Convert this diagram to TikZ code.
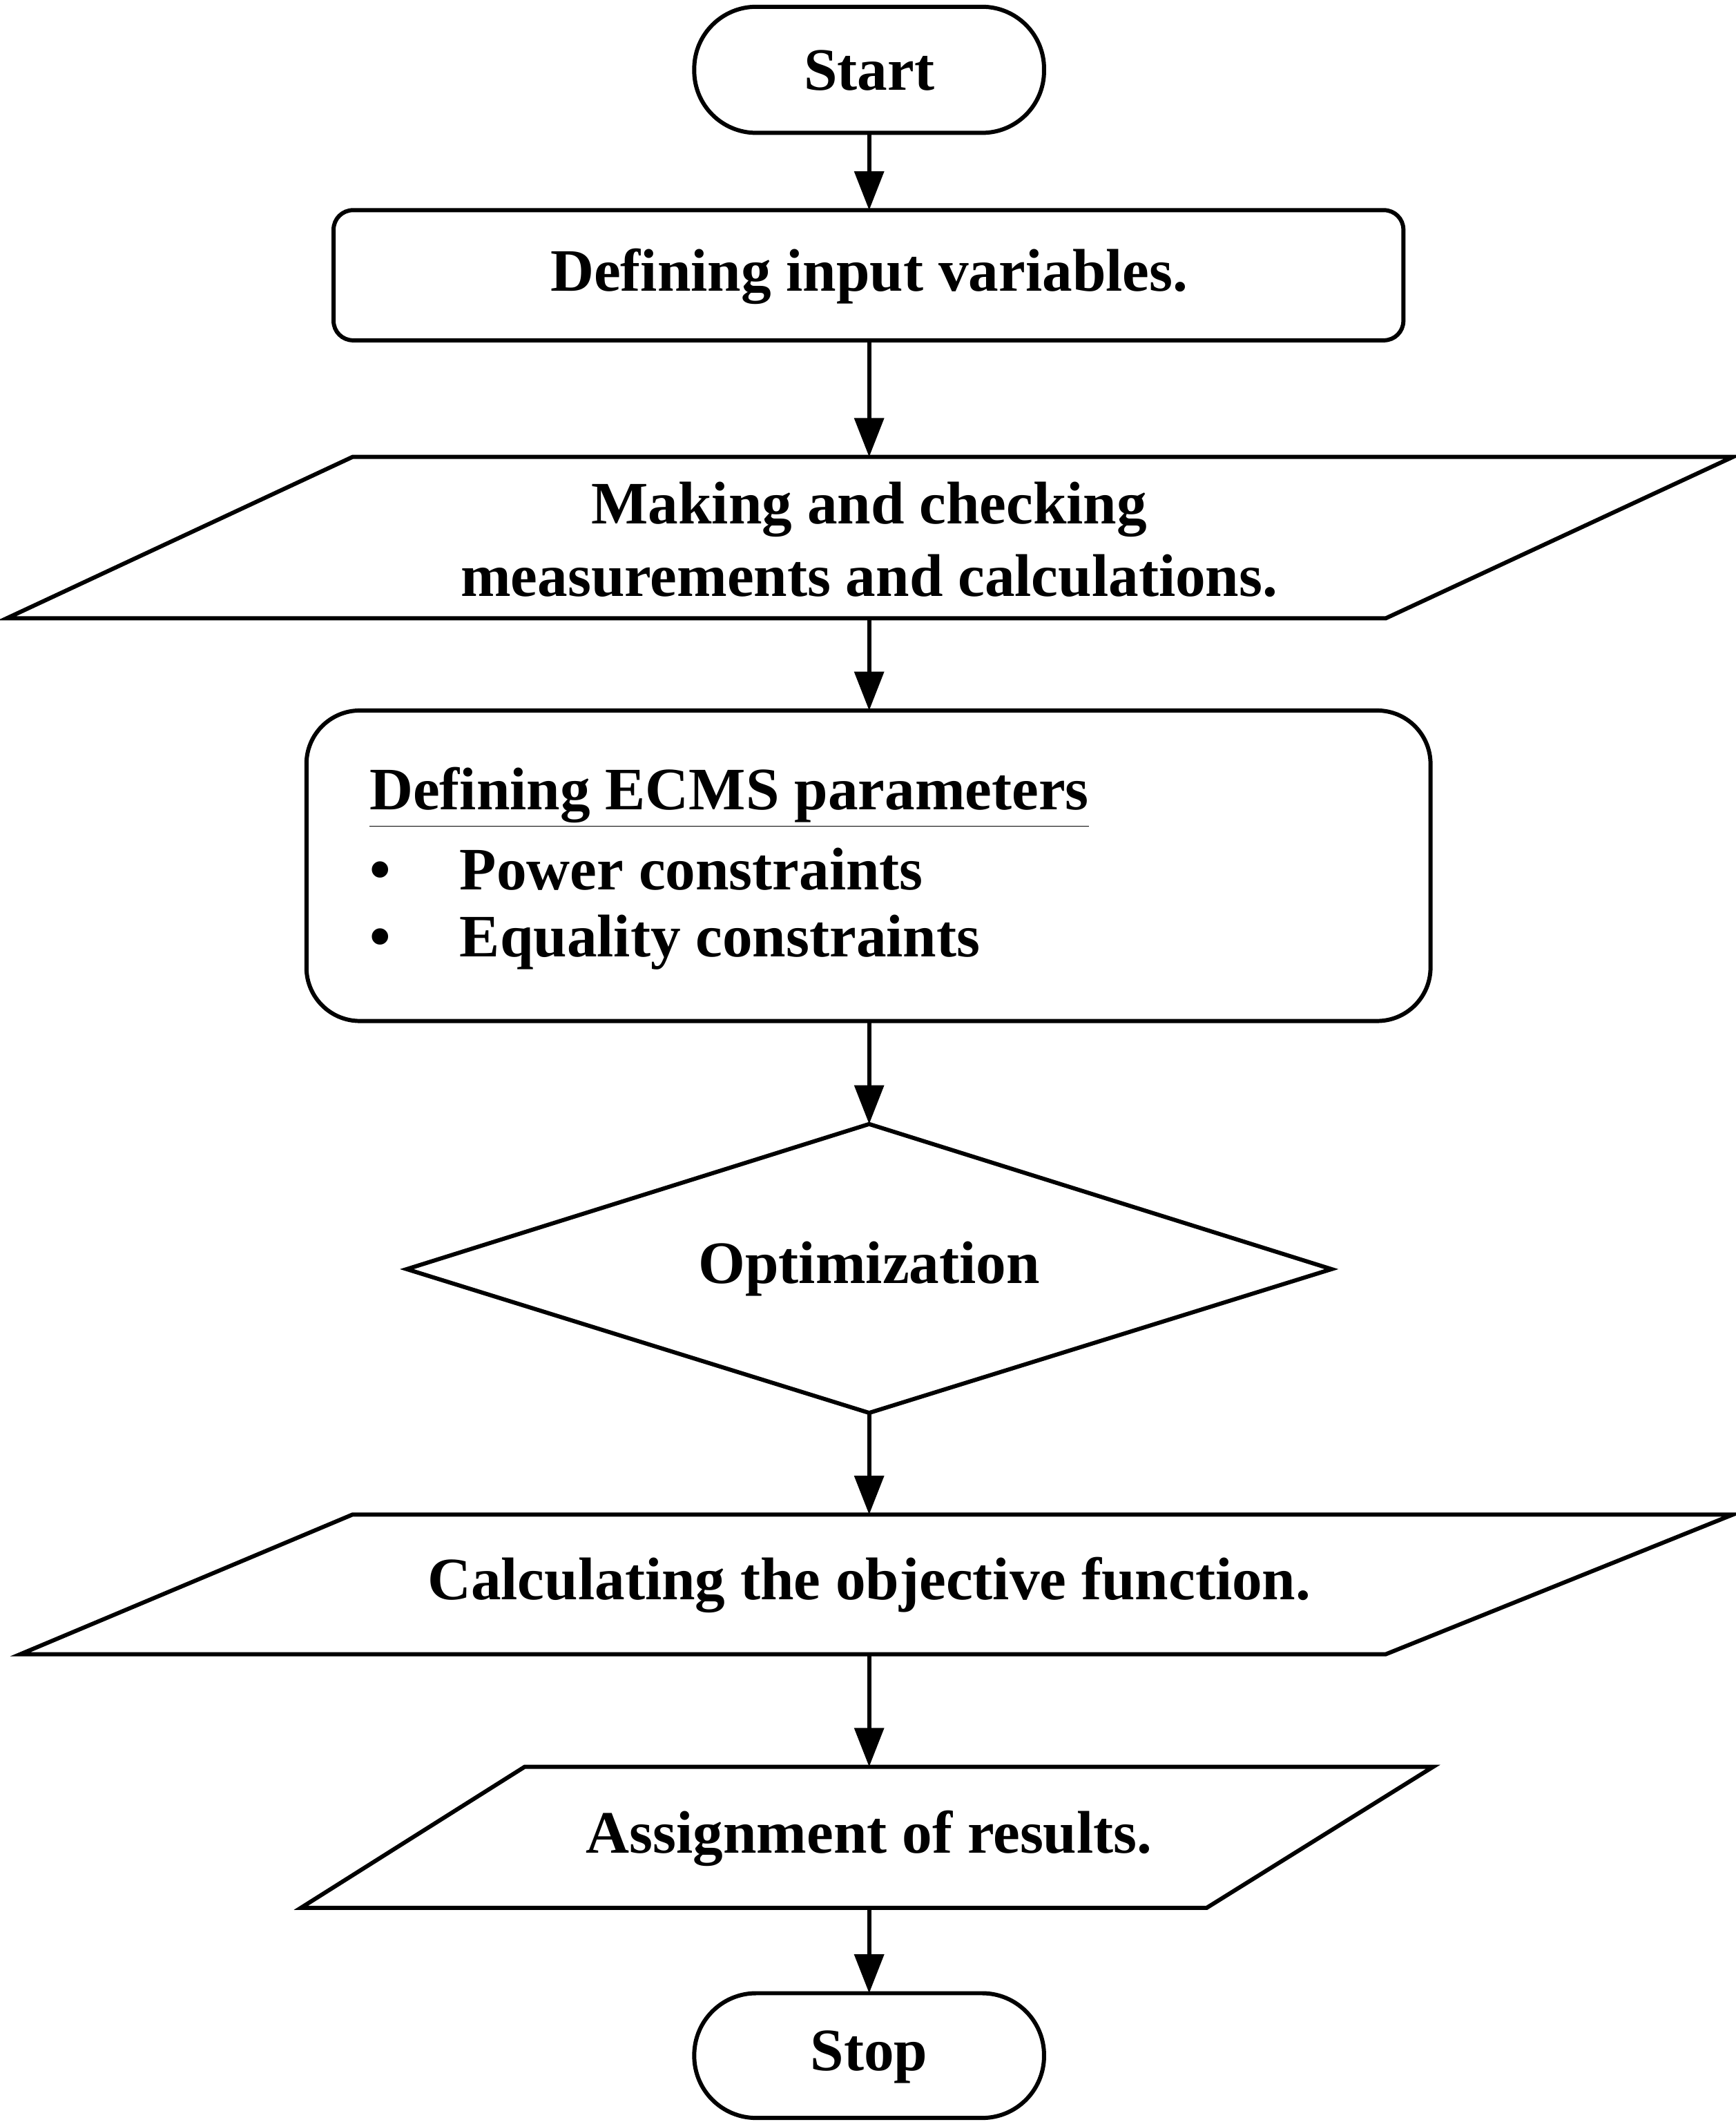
\documentclass[tikz,border=0pt]{standalone}
\usepackage{fontspec}
\setmainfont{Liberation Serif}
\usetikzlibrary{arrows.meta,shapes.geometric}
\begin{document}
\begin{tikzpicture}[x=0.01963cm,y=-0.01963cm,
  line width=1.7pt,
  txt/.style={font=\fontsize{24.8}{30}\selectfont\bfseries,inner sep=0pt},
  arr/.style={-{Triangle[length=16pt,width=12pt]}}]
\useasboundingbox (0,0) rectangle (1280,1565);
% start
\draw[rounded corners=25.5pt] (512,5) rectangle (770,98);
\node[txt] (start) at (641,52) {Start};
\coordinate (startb) at (641,98);
% input
\draw[rounded corners=8pt] (246,155) rectangle (1035,251);
\node[txt] (input) at (641,204) {Defining input variables.};
\coordinate (inputt) at (641,155);
\coordinate (inputb) at (641,251);
% para1
\draw (260,337) -- (1278,337) -- (1022,456) -- (5,456) -- cycle;
\node[txt,align=center] (meas) at (641,398) {Making and checking\\measurements and calculations.};
\coordinate (meast) at (641,337);
\coordinate (measb) at (641,456);
% ECMS
\draw[rounded corners=22pt] (226,524) rectangle (1055,753);
\node[txt,anchor=west] (ecms) at (271,588) {\underline{Defining ECMS parameters}};
\node[txt,anchor=west] (b1) at (271,641) {•\hspace{1.15em}Power constraints};
\node[txt,anchor=west] (b2) at (271,695) {•\hspace{1.15em}Equality constraints};
\coordinate (ecmst) at (641,524);
\coordinate (ecmsb) at (641,753);
% diamond
\draw (641,829) -- (982,936) -- (641,1042) -- (300,936) -- cycle;
\node[txt] (opt) at (641,936) {Optimization};
\coordinate (optt) at (641,829);
\coordinate (optb) at (641,1042);
% para2
\draw (260,1117) -- (1278,1117) -- (1022,1220) -- (15,1220) -- cycle;
\node[txt] (obj) at (641,1169) {Calculating the objective function.};
\coordinate (objt) at (641,1117);
\coordinate (objb) at (641,1220);
% para3
\draw (387,1303) -- (1057,1303) -- (890,1407) -- (222,1407) -- cycle;
\node[txt] (res) at (641,1356) {Assignment of results.};
\coordinate (rest) at (641,1303);
\coordinate (resb) at (641,1407);
% stop
\draw[rounded corners=25.5pt] (512,1470) rectangle (770,1562);
\node[txt] (stop) at (641,1517) {Stop};
\coordinate (stopt) at (641,1470);
% arrows
\draw[arr] (startb) -- (inputt);
\draw[arr] (inputb) -- (meast);
\draw[arr] (measb) -- (ecmst);
\draw[arr] (ecmsb) -- (optt);
\draw[arr] (optb) -- (objt);
\draw[arr] (objb) -- (rest);
\draw[arr] (resb) -- (stopt);
\end{tikzpicture}
\end{document}
